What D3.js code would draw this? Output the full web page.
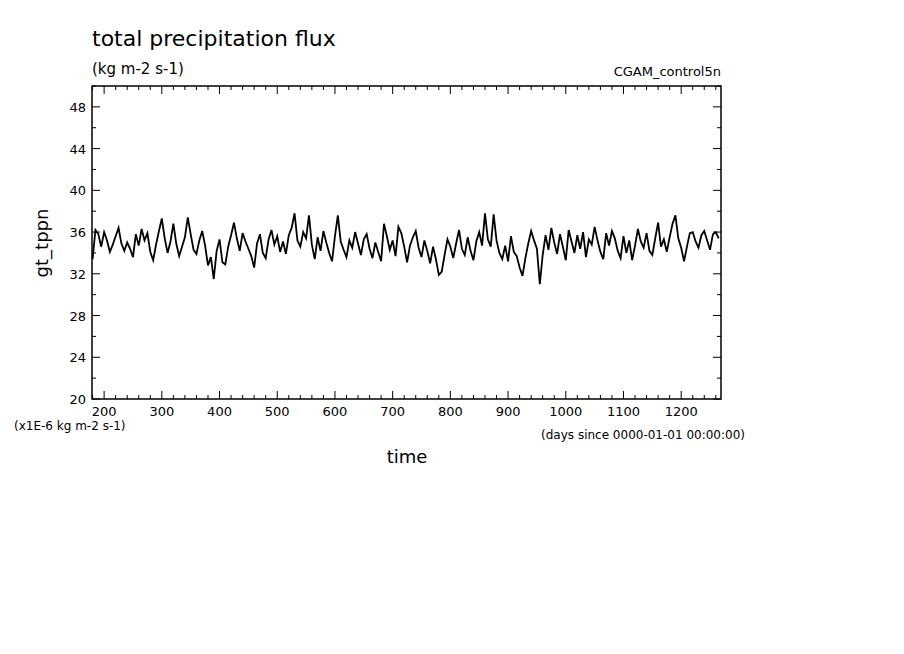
<!DOCTYPE html>
<html><head><meta charset="utf-8">
<script src="https://cdn.jsdelivr.net/npm/d3@7"></script>
<style>body{margin:0;background:#fff}text{font-family:"DejaVu Sans",sans-serif}</style>
</head><body><svg id="c" width="904" height="654"></svg>
<script>
// daily precipitation, sampled every 5 days from day 180
const startDay = 180, step = 5;
const values = [
 33.4,36.2,35.8,34.6,36.0,35.2,34.1,34.8,35.6,36.4,34.9,34.2,35.0,34.4,33.6,35.8,34.7,36.3,35.2,35.9,
 34.1,33.3,34.8,36.1,37.3,35.4,34.0,35.1,36.8,34.9,33.7,34.6,35.5,37.4,35.8,34.3,33.9,35.2,36.1,34.7,
 32.8,33.6,31.5,34.2,35.3,33.1,32.9,34.6,35.7,36.9,35.4,34.2,35.9,35.1,34.4,33.7,32.6,34.9,35.8,34.0,
 33.5,35.3,36.2,34.8,35.6,34.1,35.1,33.9,35.7,36.4,37.8,35.2,34.6,36.0,35.4,37.6,34.8,33.4,35.5,34.2,
 36.1,35.0,34.0,33.2,35.6,37.6,35.1,34.3,33.6,35.2,34.5,36.0,34.9,33.8,35.3,35.8,34.4,33.5,35.0,34.1,
 33.2,36.8,35.6,34.3,35.2,33.7,36.5,35.9,34.6,33.1,34.7,35.5,36.1,34.5,33.6,35.2,34.2,33.0,34.6,33.4,
 31.9,32.2,33.8,35.3,34.6,33.5,34.9,36.2,34.4,33.8,35.5,34.2,33.3,35.1,36.0,34.7,37.8,35.3,34.6,37.7,
 35.2,34.0,33.4,34.7,33.2,35.6,34.1,33.7,32.6,31.8,33.5,34.9,36.1,35.2,34.4,31.0,33.8,35.7,34.3,36.4,
 35.0,33.9,35.8,34.6,33.3,36.2,35.1,34.0,35.7,34.4,36.0,33.6,35.3,34.8,36.5,35.2,34.1,33.4,35.9,34.7,
 36.1,35.4,34.2,33.5,35.6,34.0,35.2,33.3,34.7,36.3,35.1,34.5,35.9,34.2,33.8,35.4,36.9,34.6,35.3,34.1,
 35.5,36.8,37.6,35.4,34.5,33.2,34.6,35.9,36.0,35.1,34.5,35.7,36.1,35.2,34.3,35.8,36.0,35.4
];
const yTicks = [20,24,28,32,36,40,44,48];
const xTicks = [200,300,400,500,600,700,800,900,1000,1100,1200];

const svg = d3.select("#c");
const L=92, R=721, T=86, B=399;
const x = d3.scaleLinear().domain([179,1269]).range([L,R]);
const y = d3.scaleLinear().domain([20,50]).range([B,T]);

const data = values.map((v,i)=>({d:startDay+i*step, v}));
svg.append("path").datum(data)
  .attr("d", d3.line().x(p=>x(p.d)).y(p=>y(p.v)))
  .attr("fill","none").attr("stroke","#000").attr("stroke-width",1.8);

svg.append("rect").attr("x",L).attr("y",T).attr("width",R-L).attr("height",B-T)
  .attr("fill","none").attr("stroke","#000").attr("stroke-width",1.5);

const minorX = d3.range(180,1270,20);
const minorY = d3.range(20,50.1,2);
const g = svg.append("g").attr("stroke","#000").attr("stroke-width",1);
minorX.forEach(t=>{
  const big = xTicks.includes(t);
  g.append("line").attr("x1",x(t)).attr("x2",x(t)).attr("y1",B).attr("y2",B-(big?8:4));
  g.append("line").attr("x1",x(t)).attr("x2",x(t)).attr("y1",T).attr("y2",T+(big?8:4));
});
minorY.forEach(t=>{
  const big = yTicks.includes(t);
  g.append("line").attr("y1",y(t)).attr("y2",y(t)).attr("x1",L).attr("x2",L+(big?8:4));
  g.append("line").attr("y1",y(t)).attr("y2",y(t)).attr("x1",R).attr("x2",R-(big?8:4));
});

const txt=(x0,y0,s,size,anchor)=>svg.append("text").attr("x",x0).attr("y",y0)
  .attr("font-size",size).attr("text-anchor",anchor||"start").text(s);
xTicks.forEach(t=>txt(x(t),416,t,13,"middle"));
yTicks.forEach(t=>txt(L-6,y(t)+5,t,13,"end"));
txt(92,46,"total precipitation flux",22);
txt(92,74,"(kg m-2 s-1)",15);
txt(721,76,"CGAM_control5n",13,"end");
txt(14,430,"(x1E-6 kg m-2 s-1)",12);
txt(745,439,"(days since 0000-01-01 00:00:00)",12,"end");
txt(407,463,"time",18,"middle");
svg.append("text").attr("transform","translate(48,243) rotate(-90)")
  .attr("font-size",18).attr("text-anchor","middle").text("gt_tppn");
</script></body></html>
